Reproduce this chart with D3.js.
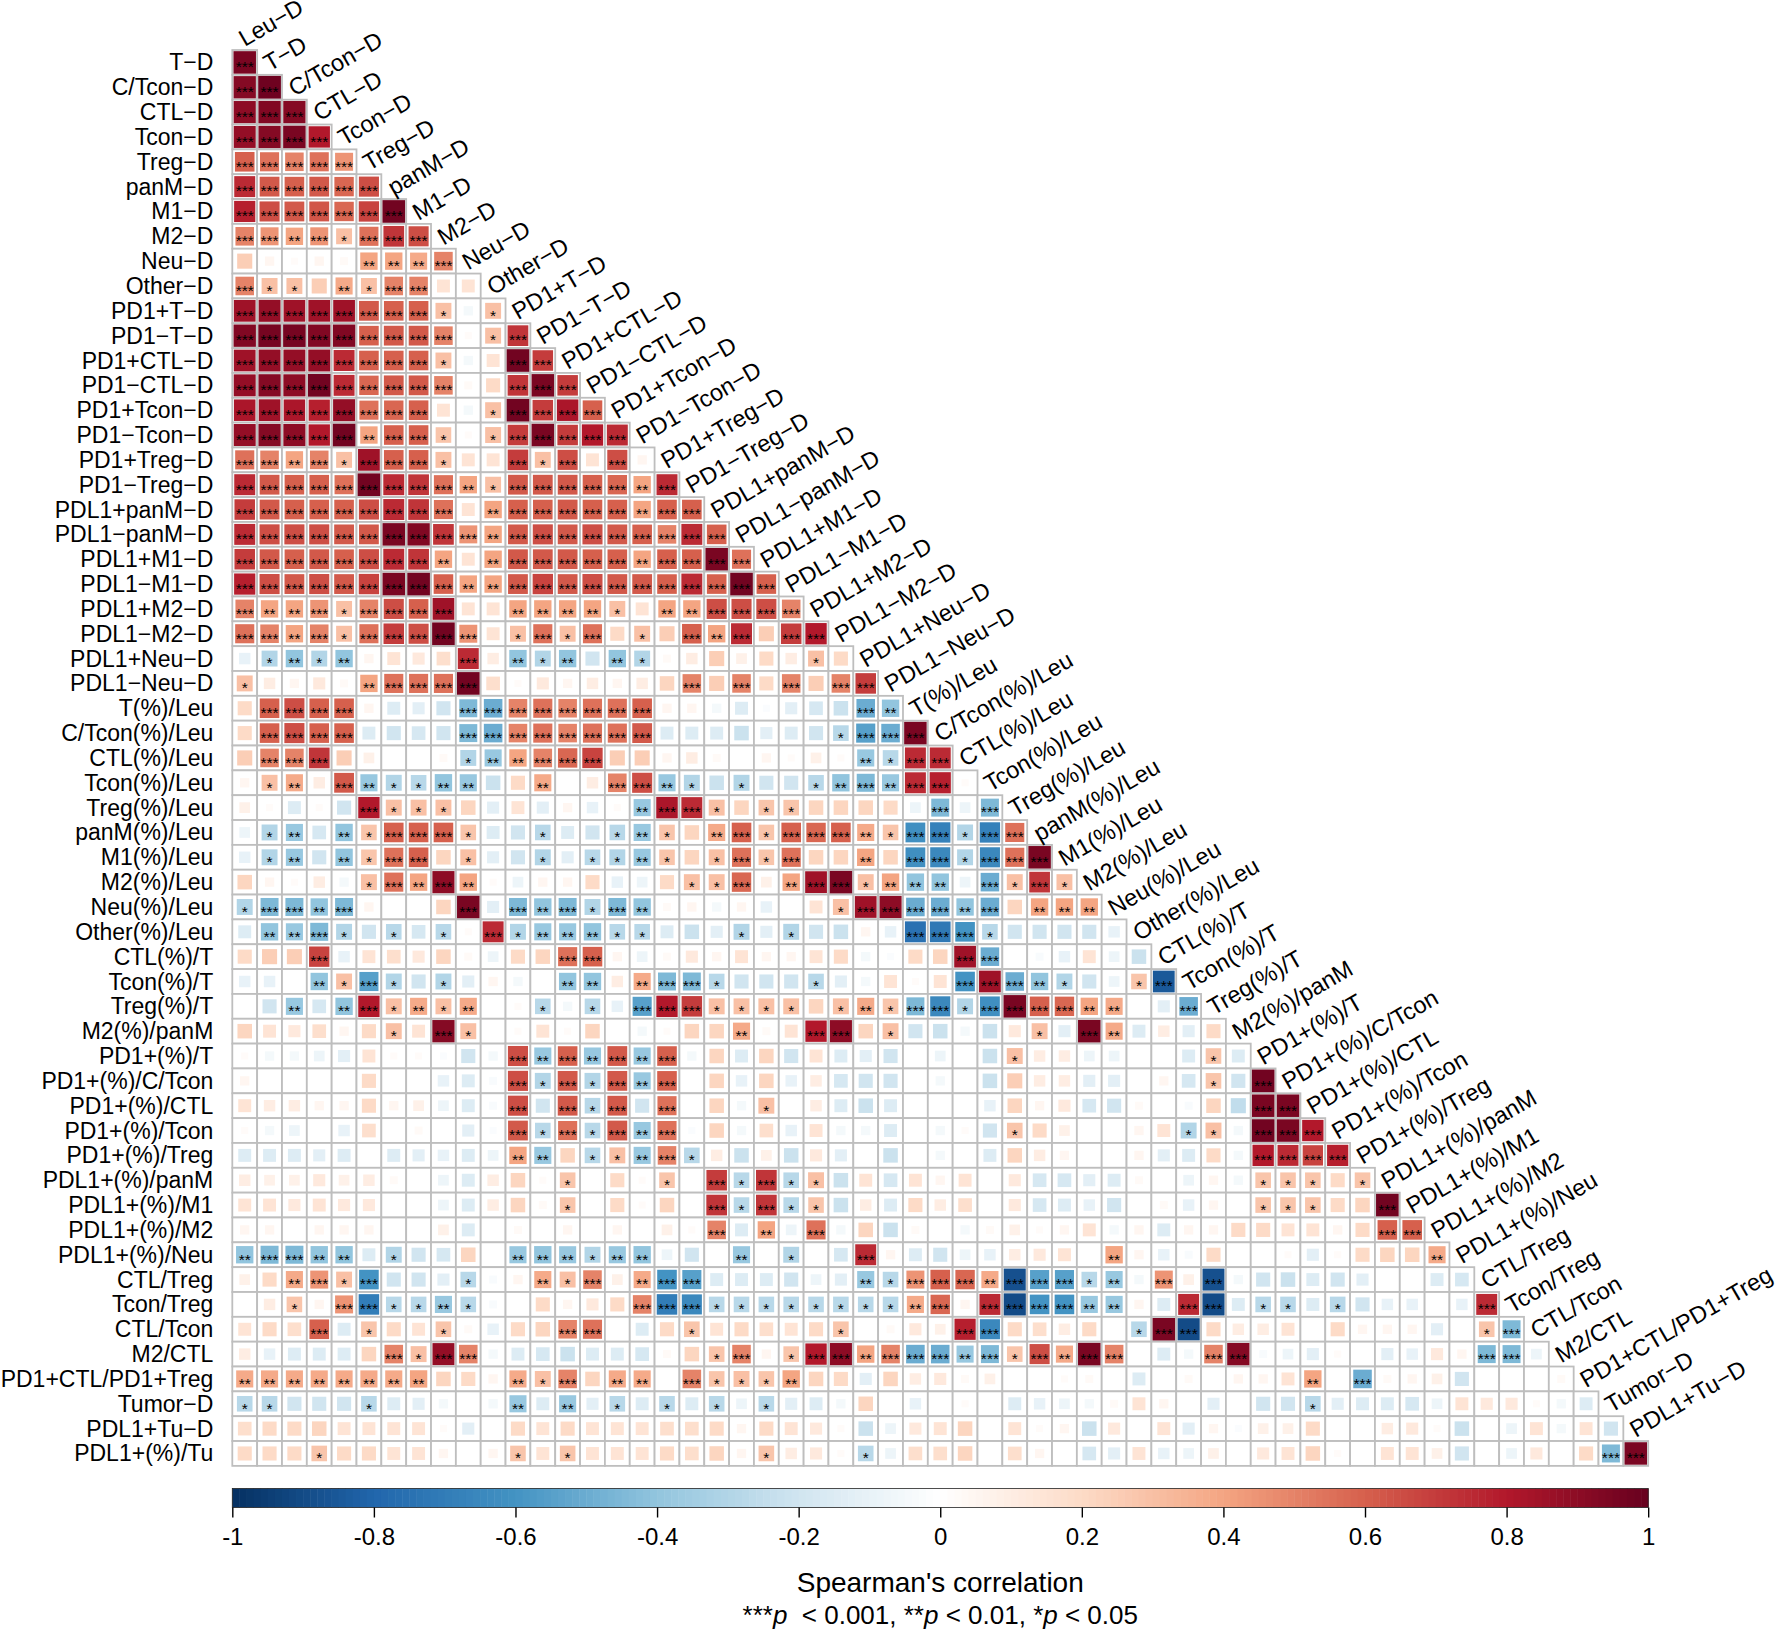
<!DOCTYPE html>
<html>
<head>
<meta charset="utf-8">
<title>Spearman correlation matrix</title>
<script src="https://cdn.jsdelivr.net/npm/d3@7"></script>
<style>
  body { margin: 0; background: #fff; }
  svg text { font-family: "Liberation Sans", Arial, Helvetica, sans-serif; }
</style>
</head>
<body>
<div id="chart"></div>
<script>
// variable order (columns: first 57, rows: last 57)
const varNames = [
  'Leu-D', 'T-D', 'C/Tcon-D', 'CTL-D', 'Tcon-D', 'Treg-D', 'panM-D', 'M1-D', 'M2-D', 'Neu-D',
  'Other-D', 'PD1+T-D', 'PD1-T-D', 'PD1+CTL-D', 'PD1-CTL-D', 'PD1+Tcon-D', 'PD1-Tcon-D',
  'PD1+Treg-D', 'PD1-Treg-D', 'PDL1+panM-D', 'PDL1-panM-D', 'PDL1+M1-D', 'PDL1-M1-D',
  'PDL1+M2-D', 'PDL1-M2-D', 'PDL1+Neu-D', 'PDL1-Neu-D', 'T(%)/Leu', 'C/Tcon(%)/Leu',
  'CTL(%)/Leu', 'Tcon(%)/Leu', 'Treg(%)/Leu', 'panM(%)/Leu', 'M1(%)/Leu', 'M2(%)/Leu',
  'Neu(%)/Leu', 'Other(%)/Leu', 'CTL(%)/T', 'Tcon(%)/T', 'Treg(%)/T', 'M2(%)/panM',
  'PD1+(%)/T', 'PD1+(%)/C/Tcon', 'PD1+(%)/CTL', 'PD1+(%)/Tcon', 'PD1+(%)/Treg',
  'PDL1+(%)/panM', 'PDL1+(%)/M1', 'PDL1+(%)/M2', 'PDL1+(%)/Neu', 'CTL/Treg', 'Tcon/Treg',
  'CTL/Tcon', 'M2/CTL', 'PD1+CTL/PD1+Treg', 'Tumor-D', 'PDL1+Tu-D', 'PDL1+(%)/Tu'
];

// lower triangle, row k = varNames[k + 1], one value per column 0..k
const corrRows = [
  [.95],
  [.92,.98],
  [.9,.93,.92],
  [.88,.92,.95,.8],
  [.6,.55,.5,.55,.45],
  [.75,.62,.6,.62,.58,.65],
  [.78,.65,.62,.63,.58,.68,.97],
  [.5,.45,.4,.45,.3,.55,.72,.65],
  [.25,.05,.02,.05,.03,.4,.4,.38,.5],
  [.5,.3,.3,.25,.38,.3,.5,.5,.15,.15],
  [.85,.88,.85,.85,.85,.62,.6,.6,.3,-.05,.3],
  [.93,.96,.96,.93,.93,.6,.62,.62,.5,.02,.3,.72],
  [.85,.88,.88,.88,.75,.6,.6,.6,.3,-.05,.15,.97,.7],
  [.88,.92,.9,.97,.75,.58,.62,.62,.5,.03,.2,.72,.95,.7],
  [.82,.85,.82,.78,.88,.55,.58,.6,.15,-.05,.3,.97,.7,.82,.6],
  [.88,.92,.9,.8,.97,.4,.6,.6,.28,.02,.3,.7,.95,.7,.8,.75],
  [.55,.5,.4,.5,.3,.85,.6,.6,.3,.15,.15,.7,.3,.65,.15,.65,.05],
  [.75,.62,.6,.6,.55,.97,.75,.72,.55,.4,.3,.62,.62,.62,.6,.58,.4,.75],
  [.7,.62,.6,.6,.6,.65,.75,.72,.55,.15,.4,.6,.6,.62,.6,.6,.4,.6,.6],
  [.75,.65,.65,.65,.62,.62,.95,.93,.72,.45,.4,.62,.65,.62,.65,.62,.6,.5,.75,.6],
  [.7,.62,.6,.62,.6,.65,.75,.72,.4,.15,.4,.62,.62,.62,.6,.6,.4,.6,.6,.95,.55],
  [.78,.65,.62,.65,.62,.68,.95,.97,.6,.4,.4,.62,.68,.62,.65,.62,.62,.6,.75,.6,.97,.6],
  [.5,.4,.4,.45,.3,.5,.65,.6,.85,.15,.15,.4,.4,.4,.4,.3,.15,.4,.4,.65,.65,.65,.5],
  [.55,.5,.4,.5,.3,.55,.7,.65,.97,.45,.15,.3,.55,.3,.55,.2,.3,.25,.6,.4,.75,.25,.7,.8],
  [-.1,-.3,-.4,-.3,-.4,.05,.15,.12,.18,.75,.1,-.4,-.3,-.4,-.2,-.4,-.3,.03,.1,.25,.08,.2,.1,.3,.2],
  [.3,.1,.05,.12,.03,.4,.55,.55,.55,.97,.18,.02,.12,.05,.1,.05,.1,.22,.5,.25,.5,.2,.5,.25,.5,.7],
  [.2,.6,.65,.6,.6,.05,-.15,-.12,-.2,-.45,-.5,.5,.55,.5,.55,.55,.6,.05,.05,-.05,-.15,-.02,-.12,-.18,-.22,-.5,-.4],
  [.2,.6,.65,.6,.6,-.15,-.2,-.18,-.2,-.45,-.5,.5,.55,.5,.55,.55,.62,-.15,-.15,-.15,-.22,-.12,-.15,-.2,-.28,-.55,-.5,.95],
  [.25,.5,.5,.72,.25,.08,0,0,.03,-.3,-.38,.4,.5,.58,.68,.25,.25,.05,.1,.03,0,.05,.02,.08,.02,-.38,-.28,.75,.75],
  [.05,.3,.38,.1,.62,-.38,-.3,-.28,-.4,-.38,-.22,.2,.38,0,.1,.5,.65,-.38,-.3,-.22,-.3,-.2,-.2,-.28,-.4,-.45,-.38,.75,.78,.02],
  [.08,.02,-.15,.02,-.2,.8,.3,.3,.3,.22,-.12,.15,-.12,.05,-.1,.02,-.38,.82,.75,.3,.22,.28,.28,.22,.22,.22,.2,-.08,-.45,-.08,-.45],
  [-.08,-.3,-.38,-.18,-.4,.28,.6,.6,.6,.28,-.15,-.2,-.28,-.15,-.2,-.28,-.38,.28,.22,.38,.6,.28,.6,.58,.6,.38,.28,-.62,-.68,-.3,-.68,.55],
  [-.1,-.3,-.38,-.2,-.4,.28,.55,.6,.22,.3,-.12,-.2,-.3,-.12,-.28,-.3,-.38,.28,.22,.3,.55,.28,.55,.22,.22,.4,.22,-.62,-.65,-.3,-.65,.55,.95],
  [.22,.05,.02,.1,-.05,.3,.55,.4,.9,.4,.02,-.08,.05,.05,.2,-.1,-.08,.2,.3,.3,.58,.08,.4,.85,.95,.3,.4,-.4,-.4,-.08,-.5,.3,.72,.3],
  [-.3,-.45,-.45,-.4,-.45,.05,0,0,.22,.95,-.12,-.45,-.4,-.45,-.3,-.45,-.4,.03,.05,-.05,.05,-.1,0,.15,.3,.85,.9,-.5,-.5,-.4,-.5,.22,.4,.4,.4],
  [-.15,-.4,-.38,-.45,-.3,-.2,-.28,-.18,-.28,.02,.75,-.3,-.38,-.38,-.4,-.28,-.28,-.15,-.22,-.12,-.3,-.12,-.3,-.2,-.22,.05,-.1,-.75,-.72,-.6,-.28,-.2,-.2,-.2,-.2,-.1],
  [.2,.25,.25,.68,-.1,.15,.18,.12,.22,.03,-.08,.2,.22,.55,.6,.05,-.08,.03,.12,.05,.15,.05,.05,.15,.2,-.05,-.02,.2,.22,.85,-.5,0,-.03,-.1,.15,-.08,-.22],
  [-.1,-.1,0,-.4,.3,-.55,-.3,-.2,-.3,-.12,.05,-.05,0,-.4,-.4,.1,.38,-.45,-.45,-.28,-.2,-.2,-.2,-.28,-.12,-.05,.15,.02,.15,-.6,.85,-.5,-.4,-.3,-.2,-.08,.28,-.85],
  [0,-.2,-.38,-.18,-.4,.8,.3,.38,.3,.38,0,.02,-.28,-.05,-.28,-.1,-.55,.8,.7,.3,.3,.3,.3,.22,.3,.38,.28,-.45,-.65,-.3,-.62,.95,.6,.58,.4,.38,0,-.12,-.5],
  [.22,.15,.12,.18,.05,.2,.3,.15,.92,.3,0,.02,.15,.02,.22,0,-.05,.02,.22,.22,.38,.03,.15,.8,.9,.22,.3,-.2,-.22,-.05,-.22,.12,.3,-.12,.95,.38,-.15,.1,-.12,.2],
  [.02,-.05,-.05,-.08,-.12,.15,.02,.02,-.02,-.2,-.05,.65,-.38,.6,-.38,.62,-.38,.6,-.05,.22,-.15,.22,-.2,.15,-.15,-.12,-.2,0,-.08,0,-.22,.3,.1,.1,-.08,-.08,0,0,-.15,.28,-.15],
  [.05,0,0,0,0,.2,0,0,-.1,-.15,-.03,.65,-.3,.62,-.3,.62,-.38,.6,0,.22,-.1,.22,-.1,.1,-.18,-.2,-.2,0,-.05,0,-.22,.25,.1,.1,-.12,-.12,0,.05,-.18,.28,-.2,.97],
  [.15,.1,.1,.05,.05,.2,.05,.08,-.08,-.15,-.03,.65,-.2,.62,-.28,.62,-.2,.55,0,.22,-.05,.3,0,.1,-.15,-.22,-.15,0,0,0,-.1,.22,.05,.12,-.18,-.2,.03,0,-.03,.22,-.25,.95,.95],
  [.02,-.05,-.08,0,-.1,.18,0,.03,0,-.12,-.02,.62,-.28,.55,-.28,.62,-.38,.55,-.02,.22,-.05,.18,-.1,.15,-.05,-.05,-.15,0,-.05,.02,-.2,.28,.2,.08,0,0,.05,.15,-.3,.3,-.05,.97,.95,.8],
  [-.15,-.15,-.15,-.12,-.15,0,-.15,-.12,-.1,-.15,-.08,.4,-.38,.22,-.28,.3,-.38,.5,-.28,.1,-.22,.08,-.22,.12,-.12,0,-.22,0,-.05,0,-.15,.22,.1,.05,0,0,.05,-.12,-.15,.2,-.05,.8,.75,.68,.78],
  [.1,.08,.08,.12,.08,.1,.03,0,-.08,-.15,.1,.22,.02,.28,0,.2,.02,.28,0,.7,-.28,.72,-.28,.3,-.22,.15,-.18,.15,.05,.15,0,.12,-.18,-.18,-.12,-.15,.03,0,-.08,.05,-.05,.28,.28,.28,.2,.28],
  [.15,.15,.12,.15,.12,.12,0,0,-.08,-.15,.1,.22,.03,.28,0,.2,.02,.22,0,.72,-.28,.72,-.28,.28,-.22,.1,-.15,.2,.1,.18,0,.12,-.18,-.15,-.1,-.2,0,.03,-.1,.05,0,.28,.28,.28,.2,.22,.97],
  [.05,.05,0,.05,.05,.05,0,0,.08,-.15,0,.03,0,.05,0,.05,0,.08,.02,.5,-.15,.4,-.08,.55,-.05,.22,-.22,.03,0,-.05,.03,.08,.02,.05,.15,-.05,.05,-.15,.05,.05,.2,.2,.15,.15,.05,.2,.6,.6],
  [-.4,-.45,-.45,-.4,-.4,-.15,-.3,-.2,-.18,.22,0,-.38,-.4,-.38,-.3,-.38,-.4,-.08,-.2,0,-.38,0,-.3,0,-.18,.75,.05,-.15,-.2,-.08,-.1,.1,.12,.15,0,.4,.05,-.1,-.03,.2,0,0,.02,-.12,.02,.2,.22,.22,.38],
  [.08,.2,.38,.45,.3,-.6,-.2,-.2,-.12,-.28,-.03,.05,.38,.3,.5,.08,.38,-.6,-.55,-.15,-.15,-.15,-.2,-.08,-.12,-.38,-.28,.45,.6,.58,.38,-.88,-.55,-.55,-.28,-.38,-.05,.45,.08,-.88,-.05,-.2,-.22,-.15,-.2,-.12,0,0,-.15,-.18],
  [0,.1,.28,.05,.45,-.7,-.28,-.28,-.38,-.28,-.03,0,.2,.05,.12,.2,.5,-.7,-.65,-.28,-.28,-.28,-.28,-.28,-.28,-.28,-.28,.38,.58,.05,.75,-.9,-.6,-.6,-.38,-.38,.05,-.15,.75,-.9,-.15,-.28,-.28,-.15,-.28,-.2,-.1,-.1,0,-.1,.75],
  [.15,.2,.18,.6,-.15,.28,.2,.15,.28,.03,-.1,.2,.22,.5,.55,0,-.15,.2,.28,.15,.2,.18,.15,.2,.28,0,.03,.12,.08,.78,-.65,.2,.18,.1,.2,0,-.28,.95,-.9,.2,.1,.1,.15,0,.2,.05,.05,.05,-.12,0,.28,-.45],
  [.1,-.1,-.15,-.15,-.15,.22,.5,.3,.88,.5,-.05,-.15,-.18,-.22,-.15,-.15,-.18,.03,.22,.28,.5,.05,.28,.8,.9,.4,.5,-.5,-.5,-.38,-.45,.28,.65,.38,.95,.5,0,-.15,-.05,.5,.92,-.03,-.08,-.12,.02,0,-.12,-.1,.12,.05,-.45,-.45,-.08],
  [.38,.38,.38,.38,.38,.38,.38,.4,.22,.2,.05,.38,.3,.5,.22,.38,.38,0,.5,.28,.3,.28,.4,.22,.2,-.12,.22,.1,.12,.03,.08,0,0,.02,.03,0,-.15,0,.03,0,.05,.05,.15,.4,0,-.5,.03,.05,.08,-.2,0,0,0,.03],
  [-.28,-.28,-.2,-.2,-.2,-.28,-.15,-.12,-.05,0,-.05,-.38,-.15,-.38,-.12,-.28,-.15,-.28,-.15,-.28,-.08,-.28,-.12,-.15,-.05,.22,0,-.1,0,.02,0,-.15,-.1,-.08,-.05,.03,.15,.05,0,-.12,0,-.2,-.2,-.28,-.12,-.15,-.15,-.18,-.08,.15,.12,.12,.02,-.05,-.15],
  [.18,.2,.2,.22,.15,.15,.15,.15,.02,-.12,0,.2,.15,.2,.15,.15,.15,.18,.18,.2,.05,.2,.15,.12,.02,-.22,-.08,.12,.15,.22,0,.15,.02,.05,-.22,.12,0,.15,-.12,.05,-.02,.08,.08,.2,0,0,.1,.12,.02,-.22,0,-.08,.15,-.05,.15,-.2],
  [.2,.2,.2,.28,.2,.2,.15,.15,.05,0,.05,.28,.15,.28,.15,.15,.15,.2,.18,.22,.05,.28,.1,.12,.02,-.28,-.08,.18,.18,.22,0,.18,.05,0,-.18,-.12,.15,-.1,-.08,.08,0,.12,.15,.22,.02,0,.15,.15,.08,-.2,0,-.08,.12,0,.2,-.45,.95]
];

// significance per cell (number of stars), in blocks of ten columns
const starRows = [
  '3', '33', '333', '3333', '33333', '333333', '3333333', '33231333', '000002223', '3110213300',
  '3333333310 1',
  '3333333330 13',
  '3333333310 033',
  '3333333330 0333',
  '3333333300 13333',
  '3333323310 133333',
  '3323133310 0313030',
  '3333333332 13333323',
  '3333333330 233333233',
  '3333333333 2333333333',
  '3333333320 2333332333 3',
  '3333333332 2333333333 33',
  '3223133330 0222210223 333',
  '3323133333 0131301032 3033',
  '0121200003 0212021000 00010',
  '1000023333 0000000030 303033',
  '0333300003 3333333000 0000032',
  '0333300003 3333333000 00001333',
  '0333000001 2233300000 000002133',
  '0120321122 0020033210 1001232330',
  '0000031110 0000002331 0110000030 3',
  '0120213331 0010012102 3133321331 33',
  '0120213301 0010112101 3130020331 333',
  '0000013232 0000000011 3023312220 3131',
  '1332300003 0323132000 0000133332 30222',
  '0223101010 3122211000 1010000333 100000',
  '0003000000 0003300000 0000000003 3000000',
  '0002131010 0002202331 0001000003 33210013',
  '0020231212 0010103331 1110121331 333322003',
  '0000001031 0000000000 2003301000 0010320000',
  '0000000000 0323232300 0000000000 0100000001 0',
  '0000000000 0313132300 0000000000 0000000001 03',
  '0000000000 0303130300 0100000000 0000000000 033',
  '0000000000 0313132300 0000000000 0100000011 0333',
  '0000000000 0220112310 0000000000 0000000000 03333',
  '0000000000 0001000103 1311000000 0000000000 011101',
  '0000000000 0001000003 1311000000 0000000000 0111003',
  '0000000000 0000000003 0203000000 0000000000 00000033',
  '2332201000 0222122000 2010030000 0000020000 000000002',
  '0023130001 0021302330 0000021333 2333120303 0000000000',
  '0010331121 0000003331 1111111230 3333220033 0110100000 3',
  '0003010010 0003300010 0000100003 3000001330 0000000000 13',
  '0000003133 0000000001 3013323332 3132330003 3000000000 330',
  '2222222200 0213022031 1120000000 0000000000 0002030000 0000',
  '1100010000 0202010101 0100000000 0000000000 0001000000 00000',
  '0000000000 0000000000 0000000000 0000000000 0000000000 000000',
  '0001000000 0101000000 0100010000 0000000000 0000000000 0000033'
];

const colorStops = [-1, -0.8, -0.6, -0.4, -0.2, 0, 0.2, 0.4, 0.6, 0.8, 1];
const colorPalette = ['#053061', '#2166AC', '#4393C3', '#92C5DE', '#D1E5F0', '#FFFFFF',
  '#FDDBC7', '#F4A582', '#D6604D', '#B2182B', '#67001F'];
const legendTicks = [-1, -0.8, -0.6, -0.4, -0.2, 0, 0.2, 0.4, 0.6, 0.8, 1];
const legendTitle = "Spearman's correlation";

const width = 1776;
const height = 1639;
const gridLeft = 232.3;
const gridTop = 50;
const cellSize = 24.84;

const colVars = varNames.slice(0, -1);
const rowVars = varNames.slice(1);
const nCells = colVars.length;

const svg = d3.select('#chart')
  .append('svg')
  .attr('width', width)
  .attr('height', height)
  .attr('viewBox', [0, 0, width, height]);

svg.append('rect').attr('width', width).attr('height', height).attr('fill', '#fff');

const x = d3.scaleBand()
  .domain(colVars)
  .range([gridLeft, gridLeft + nCells * cellSize]);

const y = d3.scaleBand()
  .domain(rowVars)
  .range([gridTop, gridTop + nCells * cellSize]);

const color = d3.scaleLinear()
  .domain(colorStops)
  .range(colorPalette)
  .interpolate(d3.interpolateRgb)
  .clamp(true);

// square side grows quickly for weak values, as in the original figure
const side = d3.scalePow()
  .exponent(0.3)
  .domain([0, 1])
  .range([0, cellSize * 0.92]);

const label = s => s.replace(/-/g, '\u2212');

// flatten the triangle
const cells = [];
corrRows.forEach((row, i) => {
  const s = (starRows[i] || '').replace(/ /g, '');
  if (s.length !== row.length) console.warn('star length mismatch row', i + 1, s.length, row.length);
  row.forEach((r, j) => {
    cells.push({ row: rowVars[i], col: colVars[j], r: r, stars: +(s[j] || 0) });
  });
});

// cell grid
svg.append('g')
  .attr('class', 'grid')
  .selectAll('rect')
  .data(cells)
  .join('rect')
  .attr('x', d => x(d.col))
  .attr('y', d => y(d.row))
  .attr('width', x.bandwidth())
  .attr('height', y.bandwidth())
  .attr('fill', '#fff')
  .attr('stroke', '#bebebe')
  .attr('stroke-width', 1.8);

// squares
svg.append('g')
  .attr('class', 'squares')
  .selectAll('rect')
  .data(cells.filter(d => d.r !== 0))
  .join('rect')
  .attr('x', d => x(d.col) + (x.bandwidth() - side(Math.abs(d.r))) / 2)
  .attr('y', d => y(d.row) + (y.bandwidth() - side(Math.abs(d.r))) / 2)
  .attr('width', d => side(Math.abs(d.r)))
  .attr('height', d => side(Math.abs(d.r)))
  .attr('fill', d => color(d.r));

// significance stars
svg.append('g')
  .attr('class', 'stars')
  .selectAll('text')
  .data(cells.filter(d => d.stars > 0))
  .join('text')
  .attr('x', d => x(d.col) + x.bandwidth() / 2)
  .attr('y', d => y(d.row) + y.bandwidth() / 2 + 9.8)
  .attr('text-anchor', 'middle')
  .attr('fill', '#000')
  .style('font-size', '15.5px')
  .text(d => '*'.repeat(d.stars));

// row labels
svg.append('g')
  .attr('class', 'row-labels')
  .selectAll('text')
  .data(rowVars)
  .join('text')
  .attr('x', gridLeft - 19)
  .attr('y', d => y(d) + y.bandwidth() / 2 + 8)
  .attr('text-anchor', 'end')
  .attr('fill', '#000')
  .style('font-size', '23px')
  .text(label);

// column labels along the diagonal
svg.append('g')
  .attr('class', 'col-labels')
  .selectAll('text')
  .data(colVars)
  .join('text')
  .attr('transform', (d, j) => `translate(${x(d) + x.bandwidth() / 2},${y(rowVars[j]) - 3}) rotate(-30)`)
  .attr('text-anchor', 'start')
  .attr('fill', '#000')
  .style('font-size', '23.5px')
  .text(label);

// colour legend
const legendY = 1488.5;
const legendH = 19;
const lx = d3.scaleLinear().domain([-1, 1]).range([gridLeft, gridLeft + nCells * cellSize]);
const nSteps = 200;
const steps = d3.range(nSteps).map(k => -1 + (k + 0.5) * 2 / nSteps);

const legend = svg.append('g').attr('class', 'legend');

legend.selectAll('rect.step')
  .data(steps)
  .join('rect')
  .attr('class', 'step')
  .attr('x', d => lx(d - 1 / nSteps))
  .attr('y', legendY)
  .attr('width', lx(1 / nSteps) - lx(-1 / nSteps) + 0.5)
  .attr('height', legendH)
  .attr('fill', d => color(d));

legend.append('rect')
  .attr('x', lx(-1))
  .attr('y', legendY)
  .attr('width', lx(1) - lx(-1))
  .attr('height', legendH)
  .attr('fill', 'none')
  .attr('stroke', '#222')
  .attr('stroke-width', 0.8);

const axis = d3.axisBottom(lx)
  .tickValues(legendTicks)
  .tickSize(10)
  .tickPadding(10)
  .tickFormat(d => String(+d.toFixed(1)));

legend.append('g')
  .attr('transform', `translate(0,${legendY + legendH})`)
  .call(axis)
  .call(g => g.select('.domain').remove())
  .call(g => g.selectAll('.tick line').attr('stroke', '#000').attr('stroke-width', 1.4))
  .call(g => g.selectAll('.tick text')
    .attr('fill', '#000')
    .style('font-size', '24px')
    .style('font-family', '"Liberation Sans", Arial, sans-serif'));

const midX = (lx(-1) + lx(1)) / 2;

legend.append('text')
  .attr('x', midX)
  .attr('y', 1592)
  .attr('text-anchor', 'middle')
  .style('font-size', '28px')
  .text(legendTitle);

const note = legend.append('text')
  .attr('x', midX)
  .attr('y', 1624)
  .attr('text-anchor', 'middle')
  .style('font-size', '26px')
  .style('white-space', 'pre');

[['***', 'p', '  < 0.001, '], ['**', 'p', ' < 0.01, '], ['*', 'p', ' < 0.05']].forEach(part => {
  note.append('tspan').text(part[0]);
  note.append('tspan').style('font-style', 'italic').text(part[1]);
  note.append('tspan').text(part[2]);
});
</script>
</body>
</html>
